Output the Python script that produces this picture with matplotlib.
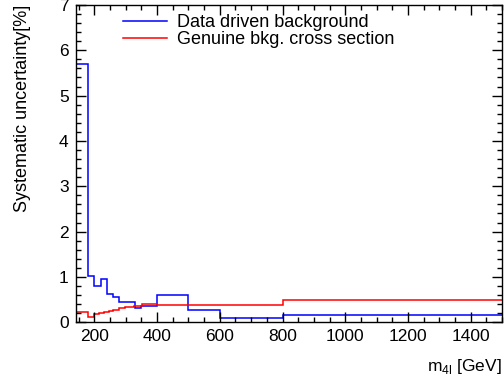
import matplotlib
matplotlib.use("Agg")
import matplotlib.pyplot as plt
from matplotlib.ticker import MultipleLocator

plt.rcParams['font.family'] = ['Liberation Sans', 'DejaVu Sans']

# Data driven background: bin edges and uncertainty [%]
blue_edges = [140, 180, 200, 220, 240, 260, 280, 330, 350, 400, 500, 600, 800, 1500]
blue_vals = [5.70, 1.02, 0.81, 0.96, 0.62, 0.55, 0.44, 0.31, 0.35, 0.61, 0.28, 0.10, 0.17]

# Genuine background cross section: bin edges and uncertainty [%]
red_edges = [140, 180, 200, 215, 230, 245, 260, 277, 298, 325, 352, 400, 600, 800, 1500]
red_vals = [0.23, 0.12, 0.18, 0.20, 0.22, 0.25, 0.28, 0.31, 0.33, 0.35, 0.40, 0.37, 0.39, 0.50]

legend_labels = ["Data driven background", "Genuine bkg. cross section"]

fig = plt.figure(figsize=(5.04, 3.80), dpi=100)
ax = fig.add_axes([0.150, 0.152, 0.846, 0.835])

ax.stairs(blue_vals, blue_edges, color=(0, 0, 1), lw=1.1, baseline=None,
          label=legend_labels[0])
ax.stairs(red_vals, red_edges, color=(1, 0, 0), lw=1.1, baseline=None,
          label=legend_labels[1])

ax.set_xlim(140, 1500)
ax.set_ylim(0, 7)
ax.xaxis.set_major_locator(MultipleLocator(200))
ax.xaxis.set_minor_locator(MultipleLocator(50))
ax.yaxis.set_major_locator(MultipleLocator(1))
ax.yaxis.set_minor_locator(MultipleLocator(0.2))
ax.tick_params(which='both', direction='in', top=True, right=True,
               labelsize=12.5, width=1.0)
ax.tick_params(which='major', length=7, pad=5)
ax.tick_params(which='minor', length=3.6)
for s in ax.spines.values():
    s.set_linewidth(1.0)

ax.set_xlabel(r"m$_{\mathregular{4l}}$ [GeV]", fontsize=12.5, loc='right',
              labelpad=9)
ax.set_ylabel("Systematic uncertainty[%]", fontsize=13, loc='top', labelpad=20)

ax.legend(loc='upper left', bbox_to_anchor=(0.111, 0.972), frameon=False,
          fontsize=13, handlelength=2.45, handletextpad=0.55,
          labelspacing=0.0, borderpad=0.0, borderaxespad=0.0)

fig.savefig("out.png", dpi=100)
